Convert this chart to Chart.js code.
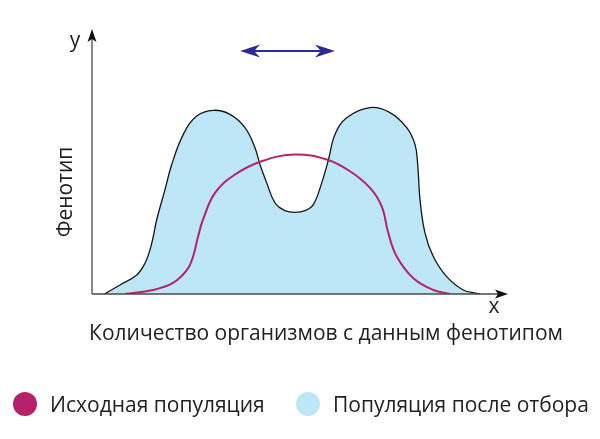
<!DOCTYPE html>
<html>
<head>
<meta charset="utf-8">
<script src="https://cdn.jsdelivr.net/npm/chart.js@4"></script>
<style>
  html, body { margin: 0; padding: 0; background: #ffffff; }
  #wrap { position: relative; width: 600px; height: 439px; }
</style>
</head>
<body>
<div id="wrap"><canvas id="c" width="600" height="439"></canvas></div>
<script>
// Population after selection (blue filled area)
const afterX = [2.96, 6.73, 10.75, 12.74, 13.94, 14.74, 15.55, 17.55, 19.16, 21.95, 25.17, 29.16, 33.17, 36.78, 39.18, 40.38, 42.00, 43.99, 46.39, 48.80, 51.20, 53.20, 55.22, 56.85, 58.41, 61.23, 66.83, 71.63, 75.65, 77.64, 78.29, 78.85, 80.05, 82.04, 85.26, 89.25, 92.48, 93.27];
const afterY = [0, 3.41, 7.20, 11.63, 16.67, 21.70, 28.03, 39.39, 48.86, 60.23, 67.16, 69.32, 67.80, 62.77, 55.19, 48.86, 41.93, 34.36, 31.44, 30.80, 31.44, 33.71, 41.93, 50.76, 60.23, 66.55, 70.34, 68.45, 62.77, 56.44, 48.86, 35.61, 22.99, 14.13, 6.55, 1.52, 0.27, 0];
// Original population (magenta line)
const initX = [7.93, 14.66, 19.47, 22.84, 24.28, 25.48, 26.68, 29.57, 34.38, 40.79, 48.80, 56.42, 62.02, 66.83, 69.64, 71.23, 73.25, 77.24, 82.04, 86.06];
const initY = [0, 1.52, 4.17, 9.09, 14.02, 21.59, 28.03, 38.14, 45.08, 50.11, 52.65, 50.76, 46.33, 40.04, 33.07, 22.99, 14.13, 5.95, 1.52, 0];
// Texts
const seriesNames = ['Исходная популяция', 'Популяция после отбора'];
const xAxisTitle = 'Количество организмов с данным фенотипом';
const yAxisTitle = 'Фенотип';
const xAxisLetter = 'x';
const yAxisLetter = 'y';

const MAGENTA = '#b5226b';
const BLUE = '#bde7f7';
const FONT = '"Open Sans", "Noto Sans", sans-serif';

function toPts(xs, ys) { return xs.map((x, i) => ({ x: x, y: ys[i] })); }

function arrowHead(ctx, tipX, tipY, dirX, dirY, len, half, notch) {
  const px = -dirY, py = dirX;
  const bx = tipX - dirX * len, by = tipY - dirY * len;
  ctx.beginPath();
  ctx.moveTo(tipX, tipY);
  ctx.lineTo(bx + px * half, by + py * half);
  ctx.lineTo(tipX - dirX * (len - notch), tipY - dirY * (len - notch));
  ctx.lineTo(bx - px * half, by - py * half);
  ctx.closePath();
  ctx.fill();
}

const decor = {
  id: 'decor',
  afterDatasetsDraw(chart) {
    const ctx = chart.ctx;
    const xs = chart.scales.x, ys = chart.scales.y;
    const x0 = xs.getPixelForValue(0), x1 = xs.getPixelForValue(100);
    const y0 = ys.getPixelForValue(0), y1 = ys.getPixelForValue(100);
    ctx.save();
    // axes
    ctx.strokeStyle = '#4a4a4a';
    ctx.lineWidth = 1.3;
    ctx.beginPath();
    ctx.moveTo(x0, y0); ctx.lineTo(x0, y1 + 6);
    ctx.moveTo(x0, y0); ctx.lineTo(x1 - 6, y0);
    ctx.stroke();
    ctx.fillStyle = '#111';
    arrowHead(ctx, x0, y1, 0, -1, 13, 4.5, 3);
    arrowHead(ctx, x1, y0, 1, 0, 13, 4.5, 3);
    // double arrow (direction of selection)
    const ax0 = xs.getPixelForValue(35.6), ax1 = xs.getPixelForValue(58.4), ay = ys.getPixelForValue(91.7);
    ctx.strokeStyle = '#2d2a97';
    ctx.fillStyle = '#2d2a97';
    ctx.lineWidth = 2;
    ctx.beginPath(); ctx.moveTo(ax0 + 10, ay); ctx.lineTo(ax1 - 10, ay); ctx.stroke();
    arrowHead(ctx, ax0, ay, -1, 0, 20, 6.5, 6);
    arrowHead(ctx, ax1, ay, 1, 0, 20, 6.5, 6);
    // texts
    ctx.fillStyle = '#222';
    ctx.textBaseline = 'middle';
    ctx.textAlign = 'center';
    ctx.font = '21px ' + FONT;
    ctx.fillText(yAxisLetter, x0 - 17, y1 + 12);
    ctx.fillText(xAxisLetter, x1 - 14, y0 + 13);
    ctx.fillText(xAxisTitle, 326, 334);
    ctx.save();
    ctx.translate(66, 192);
    ctx.rotate(-Math.PI / 2);
    ctx.fillText(yAxisTitle, 0, 0);
    ctx.restore();
    // legend
    const items = [
      { cx: 25, tx: 50, color: MAGENTA, label: seriesNames[0] },
      { cx: 308, tx: 333, color: BLUE, label: seriesNames[1] }
    ];
    ctx.textAlign = 'left';
    items.forEach(it => {
      ctx.fillStyle = it.color;
      ctx.beginPath(); ctx.arc(it.cx, 404, 12, 0, Math.PI * 2); ctx.fill();
      ctx.fillStyle = '#222';
      ctx.fillText(it.label, it.tx, 406);
    });
    ctx.restore();
  }
};

new Chart(document.getElementById('c'), {
  type: 'line',
  data: {
    datasets: [
      {
        label: seriesNames[0],
        data: toPts(initX, initY),
        borderColor: MAGENTA,
        borderWidth: 2,
        fill: false,
        pointRadius: 0,
        tension: 0.4,
        order: 0
      },
      {
        label: seriesNames[1],
        data: toPts(afterX, afterY),
        borderColor: '#151515',
        backgroundColor: BLUE,
        borderWidth: 1.3,
        fill: 'origin',
        pointRadius: 0,
        tension: 0.4,
        order: 1
      }
    ]
  },
  options: {
    responsive: false,
    animation: false,
    devicePixelRatio: 1,
    layout: { padding: { left: 92, right: 92, top: 29, bottom: 145 } },
    plugins: { legend: { display: false }, tooltip: { enabled: false }, title: { display: false } },
    scales: {
      x: { type: 'linear', min: 0, max: 100, display: false },
      y: { type: 'linear', min: 0, max: 100, display: false }
    }
  },
  plugins: [decor]
});
</script>
</body>
</html>
